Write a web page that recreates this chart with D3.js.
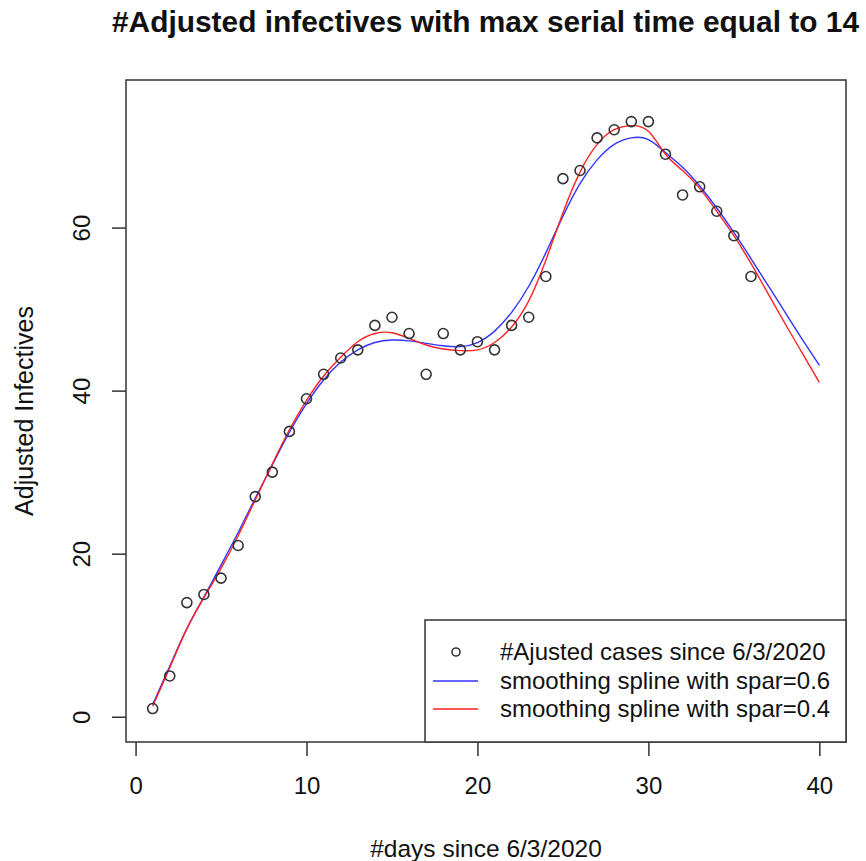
<!DOCTYPE html>
<html>
<head>
<meta charset="utf-8">
<script src="https://cdn.jsdelivr.net/npm/d3@7"></script>
<style>
  body { margin: 0; background: #fff; }
  text { font-family: "Liberation Sans", Arial, sans-serif; fill: #111; }
</style>
</head>
<body>
<div id="chart"></div>
<script>
// observed adjusted cases, day 1..36
const days = d3.range(1, 37);
const cases = [1, 5, 14, 15, 17, 21, 27, 30, 35, 39, 42, 44, 45, 48, 49, 47, 42, 47,
               45, 46, 45, 48, 49, 54, 66, 67, 71, 72, 73, 73, 69, 64, 65, 62, 59, 54];

// fitted spline values, day 1..40
const splineDays = d3.range(1, 41);
const spline06 = [1.5, 6.2, 10.8, 14.7, 18.6, 22.6, 26.8, 30.9, 34.9, 38.4,
                  41.3, 43.5, 45.0, 45.9, 46.2, 46.1, 45.8, 45.5, 45.4, 45.9,
                  47.3, 49.6, 52.8, 56.9, 61.4, 65.4, 68.3, 70.2, 71.0, 70.8,
                  69.2, 67.4, 65.1, 62.4, 59.4, 56.2, 52.9, 49.6, 46.3, 43.1];
const spline04 = [1.3, 6.0, 10.8, 14.6, 18.2, 22.2, 26.6, 31.0, 35.2, 38.8,
                  41.8, 44.1, 46.0, 47.0, 47.1, 46.4, 45.6, 45.1, 44.9, 45.0,
                  45.9, 47.8, 51.0, 56.0, 61.8, 66.8, 70.2, 72.0, 72.5, 71.8,
                  69.0, 67.0, 64.8, 62.0, 59.0, 55.6, 51.9, 48.2, 44.6, 41.0];

const xTicks = [0, 10, 20, 30, 40];
const yTicks = [0, 20, 40, 60];
const legendLabels = ["#Ajusted cases since 6/3/2020",
                      "smoothing spline with spar=0.6",
                      "smoothing spline with spar=0.4"];

const width = 866, height = 861;
const box = {left: 126, right: 846, top: 80, bottom: 742};

const svg = d3.select("#chart").append("svg")
    .attr("width", width)
    .attr("height", height);

const xScale = d3.scaleLinear().domain([-0.56, 41.56]).range([box.left, box.right]);
const yScale = d3.scaleLinear().domain([-3.1, 78.1]).range([box.bottom, box.top]);

// title
svg.append("text")
    .attr("x", 112).attr("y", 32)
    .attr("textLength", 747).attr("lengthAdjust", "spacingAndGlyphs")
    .style("font-size", "29px").style("font-weight", "bold")
    .text("#Adjusted infectives with max serial time equal to 14");

// axes, R style: detached from the box
const xAxis = svg.append("g")
    .attr("transform", `translate(0,${box.bottom})`)
    .call(d3.axisBottom(xScale).tickValues(xTicks).tickSize(14));
const yAxis = svg.append("g")
    .attr("transform", `translate(${box.left},0)`)
    .call(d3.axisLeft(yScale).tickValues(yTicks).tickSize(14));

[xAxis, yAxis].forEach(g => {
    g.select(".domain").remove();
    g.selectAll("line").attr("stroke", "#333").attr("stroke-width", 1.5);
    g.selectAll("text").style("font-size", "24px").attr("fill", "#111");
});
xAxis.selectAll("text").attr("y", 44).attr("dy", "0.35em");
// y labels are rotated, as R draws them
yAxis.selectAll(".tick text")
    .attr("x", 0).attr("y", 0).attr("dy", "0.35em")
    .attr("text-anchor", "middle")
    .attr("transform", "translate(-44,0) rotate(-90)");

// axis titles
svg.append("text")
    .attr("x", (box.left + box.right) / 2).attr("y", 857)
    .attr("text-anchor", "middle")
    .style("font-size", "24.5px")
    .text("#days since 6/3/2020");

svg.append("text")
    .attr("transform", `translate(33,${(box.top + box.bottom) / 2}) rotate(-90)`)
    .attr("text-anchor", "middle")
    .style("font-size", "25px")
    .text("Adjusted Infectives");

// plot box
svg.append("rect")
    .attr("x", box.left).attr("y", box.top)
    .attr("width", box.right - box.left).attr("height", box.bottom - box.top)
    .attr("fill", "none").attr("stroke", "#333").attr("stroke-width", 1.5);

// spline lines
const line = d3.line()
    .x((d, i) => xScale(splineDays[i]))
    .y(d => yScale(d))
    .curve(d3.curveNatural);

svg.append("path").datum(spline06)
    .attr("d", line).attr("fill", "none")
    .attr("stroke", "#3333ff").attr("stroke-width", 1.4);

svg.append("path").datum(spline04)
    .attr("d", line).attr("fill", "none")
    .attr("stroke", "#ff2222").attr("stroke-width", 1.4);

// observed points
svg.selectAll("circle.pt")
    .data(cases)
    .enter().append("circle")
    .attr("class", "pt")
    .attr("cx", (d, i) => xScale(days[i]))
    .attr("cy", d => yScale(d))
    .attr("r", 5)
    .attr("fill", "none")
    .attr("stroke", "#333")
    .attr("stroke-width", 1.6);

// legend
const lg = {left: 425, top: 620};
svg.append("rect")
    .attr("x", lg.left).attr("y", lg.top)
    .attr("width", box.right - lg.left).attr("height", box.bottom - lg.top)
    .attr("fill", "#fff").attr("stroke", "#333").attr("stroke-width", 1.5);

const rowY = [652, 681, 709];
svg.append("circle")
    .attr("cx", 456).attr("cy", rowY[0]).attr("r", 4)
    .attr("fill", "none").attr("stroke", "#333").attr("stroke-width", 1.6);
[["#3333ff", 1], ["#ff2222", 2]].forEach(([c, i]) => {
    svg.append("line")
        .attr("x1", 433).attr("x2", 478)
        .attr("y1", rowY[i]).attr("y2", rowY[i])
        .attr("stroke", c).attr("stroke-width", 1.4);
});

svg.selectAll("text.legend")
    .data(legendLabels)
    .enter().append("text")
    .attr("class", "legend")
    .attr("x", 500)
    .attr("y", (d, i) => rowY[i])
    .attr("dy", "0.35em")
    .style("font-size", "24px")
    .text(d => d);
</script>
</body>
</html>
